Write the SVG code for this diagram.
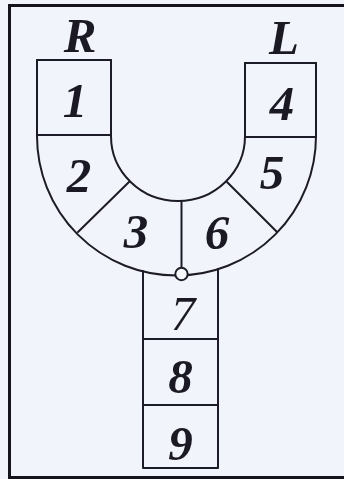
<svg xmlns="http://www.w3.org/2000/svg" width="344" height="479" viewBox="0 0 344 479">
<style>
.ln{fill:none;stroke:#1d1b27;stroke-width:2;stroke-linecap:round;stroke-linejoin:round}
.fr{fill:none;stroke:#15131c;stroke-width:3}
.t{font-family:"Liberation Serif","Times New Roman",serif;font-style:italic;font-weight:bold;font-size:49px;fill:#1b1a24;text-anchor:middle}
.thin{font-weight:normal}
</style>
<rect x="0" y="0" width="344" height="479" fill="#f1f4fa"/>
<path class="fr" d="M344,5.5 H9.5 V477.5 H344"/>
<g id="connectors">
<path class="ln" d="M37,60 V136 A139.5,139.5 0 0 0 316,136 V63"/>
<path class="ln" d="M111,60 V136 A67,65 0 0 0 245,136 V63"/>
<line class="ln" x1="78" y1="232" x2="129" y2="182"/>
<line class="ln" x1="227" y1="182" x2="277" y2="232"/>
<line class="ln" x1="181.5" y1="201" x2="181.5" y2="268"/>
</g>
<g id="node-R"><text class="t" x="80" y="52">R</text></g>
<g id="node-L"><text class="t" x="284" y="54">L</text></g>
<g id="node-1"><path class="ln" d="M37,60 H111 M37,135 H111"/><text class="t" x="75" y="117">1</text></g>
<g id="node-4"><path class="ln" d="M245,63 H316 M245,137 H316"/><text class="t" x="282" y="120">4</text></g>
<g id="node-2"><text class="t" x="79" y="192">2</text></g>
<g id="node-5"><text class="t" x="272" y="189">5</text></g>
<g id="node-3"><text class="t" x="136" y="248">3</text></g>
<g id="node-6"><text class="t" x="217" y="249">6</text></g>
<g id="node-circle"><circle cx="181.5" cy="274" r="6.2" fill="#f7f8fc" stroke="#1d1b27" stroke-width="2"/></g>
<g id="node-7"><path class="ln" d="M143,271 V339 M218,269 V339 M143,339 H218"/><text class="t thin" x="183" y="330">7</text></g>
<g id="node-8"><path class="ln" d="M143,339 V405 M218,339 V405 M143,405 H218"/><text class="t" x="180.5" y="393">8</text></g>
<g id="node-9"><path class="ln" d="M143,405 V468 H218 V405"/><text class="t" x="180.5" y="460">9</text></g>
</svg>
